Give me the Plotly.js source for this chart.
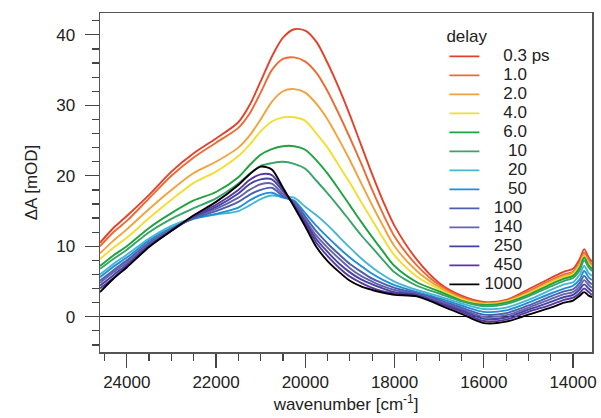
<!DOCTYPE html>
<html>
<head>
<meta charset="utf-8">
<script src="https://cdn.plot.ly/plotly-3.0.1.min.js"></script>
<style>html,body{margin:0;padding:0;background:#fff;}#chart{width:601px;height:418px;}</style>
</head>
<body>
<div id="chart"></div>
<script>
// wavenumber grid (cm^-1)
const wavenumber = [24600, 24300, 24000, 23500, 23000, 22500, 22000, 21500, 21250, 21000, 20750, 20500, 20250, 20000, 19750, 19500, 19250, 19000, 18750, 18500, 18250, 18000, 17500, 17000, 16500, 16000, 15500, 15000, 14500, 14200, 14000, 13850, 13750, 13650, 13575];

// delay labels
const delays = ["0.3 ps", "1.0", "2.0", "4.0", "6.0", "10", "20", "50", "100", "140", "250", "450", "1000"];

// ΔA [mOD] per delay
const d0p3 = [10.5, 12.6, 14.3, 17.3, 20.6, 23.2, 25.3, 27.6, 30.0, 33.4, 36.9, 39.6, 40.8, 40.6, 39.0, 36.0, 32.5, 28.6, 24.4, 20.2, 16.3, 12.9, 8.1, 4.8, 3.0, 2.1, 2.4, 3.9, 5.5, 6.4, 6.8, 8.2, 9.6, 8.4, 7.8];
const d1p0 = [10.0, 12.0, 13.6, 16.8, 20.0, 22.6, 24.7, 26.8, 28.8, 31.8, 35.0, 36.6, 36.8, 36.2, 34.6, 32.0, 28.8, 25.4, 21.8, 18.0, 14.5, 11.4, 7.3, 4.5, 2.8, 2.0, 2.3, 3.6, 5.2, 6.0, 6.4, 7.7, 9.1, 8.0, 7.4];
const d2p0 = [9.0, 10.8, 12.4, 15.3, 18.0, 20.4, 22.0, 24.0, 25.7, 28.0, 30.5, 32.0, 32.3, 31.8, 30.2, 28.0, 25.2, 22.2, 19.0, 15.8, 12.8, 10.0, 6.5, 4.2, 2.6, 1.9, 2.2, 3.4, 5.0, 5.8, 6.2, 7.5, 8.8, 7.7, 7.2];
const d4p0 = [8.2, 9.8, 11.2, 14.0, 16.6, 19.0, 20.6, 22.8, 24.4, 26.3, 27.7, 28.3, 28.3, 27.8, 26.0, 24.0, 21.5, 19.0, 16.3, 13.7, 11.1, 8.7, 5.7, 3.9, 2.5, 1.8, 2.1, 3.3, 4.8, 5.6, 6.0, 7.2, 8.6, 7.5, 7.0];
const d6p0 = [7.2, 8.7, 10.0, 12.6, 14.7, 16.5, 17.7, 19.8, 21.5, 23.0, 23.8, 24.2, 24.2, 23.7, 22.2, 20.3, 18.1, 15.8, 13.5, 11.3, 9.2, 7.2, 4.9, 3.6, 2.3, 1.7, 2.0, 3.1, 4.6, 5.4, 5.8, 7.0, 8.4, 7.3, 6.8];
const d10 = [6.8, 8.2, 9.5, 12.0, 13.9, 15.4, 16.8, 18.9, 20.3, 21.4, 21.8, 22.0, 21.7, 21.0, 19.3, 17.5, 15.6, 13.6, 11.6, 9.8, 8.0, 6.3, 4.4, 3.3, 2.2, 1.5, 1.8, 2.9, 4.3, 5.1, 5.5, 6.6, 8.0, 7.0, 6.5];
const d20 = [6.0, 7.5, 8.8, 11.1, 12.9, 14.0, 14.5, 15.0, 15.8, 16.7, 17.2, 17.0, 16.9, 15.6, 14.4, 13.0, 11.4, 9.8, 8.3, 7.0, 5.9, 5.0, 3.8, 2.9, 1.9, 1.1, 1.3, 2.4, 3.8, 4.6, 4.9, 6.0, 7.2, 6.2, 5.8];
const d50 = [5.6, 7.1, 8.4, 10.8, 12.6, 13.9, 14.6, 15.5, 16.5, 17.3, 17.6, 16.9, 16.5, 14.7, 12.9, 11.3, 9.8, 8.4, 7.2, 6.1, 5.2, 4.5, 3.5, 2.6, 1.6, 0.7, 0.9, 2.0, 3.3, 4.0, 4.4, 5.3, 6.5, 5.6, 5.2];
const d100 = [5.1, 6.6, 8.0, 10.5, 12.4, 14.0, 15.0, 16.3, 17.3, 18.0, 18.3, 17.1, 16.3, 14.2, 12.1, 10.4, 8.9, 7.5, 6.4, 5.4, 4.7, 4.1, 3.3, 2.4, 1.3, 0.3, 0.5, 1.6, 2.9, 3.6, 3.9, 4.8, 5.8, 5.0, 4.6];
const d140 = [4.8, 6.3, 7.7, 10.3, 12.3, 14.1, 15.3, 16.9, 18.0, 18.8, 18.9, 17.4, 16.1, 13.8, 11.5, 9.8, 8.3, 6.9, 5.8, 5.0, 4.3, 3.8, 3.2, 2.2, 1.1, 0.0, 0.2, 1.3, 2.5, 3.2, 3.5, 4.3, 5.2, 4.5, 4.1];
const d250 = [4.4, 5.9, 7.4, 10.1, 12.2, 14.2, 15.6, 17.5, 18.8, 19.5, 19.5, 17.8, 15.9, 13.5, 11.0, 9.2, 7.6, 6.3, 5.3, 4.6, 4.0, 3.5, 3.1, 2.0, 0.9, -0.3, -0.1, 1.0, 2.1, 2.8, 3.1, 3.9, 4.6, 4.0, 3.6];
const d450 = [4.0, 5.5, 7.2, 10.0, 12.2, 14.3, 15.9, 18.0, 19.4, 20.2, 20.1, 18.1, 15.8, 13.2, 10.5, 8.6, 7.0, 5.7, 4.8, 4.1, 3.6, 3.3, 3.0, 1.9, 0.7, -0.6, -0.4, 0.7, 1.7, 2.4, 2.7, 3.4, 4.0, 3.5, 3.1];
const d1000 = [3.5, 5.4, 7.0, 9.9, 12.2, 14.4, 16.3, 18.7, 20.2, 21.3, 20.9, 18.3, 15.6, 12.8, 9.9, 7.9, 6.4, 5.1, 4.3, 3.8, 3.4, 3.1, 2.9, 1.7, 0.4, -0.9, -0.7, 0.3, 1.3, 2.0, 2.3, 3.0, 3.5, 3.0, 2.8];

const series = [d0p3, d1p0, d2p0, d4p0, d6p0, d10, d20, d50, d100, d140, d250, d450, d1000];
const colors = ["#e4412b", "#ec6b35", "#f0a23c", "#f2de30", "#1fa23f", "#37a468", "#46b6d2", "#1f8fd6", "#4a5fae", "#6a62a8", "#3f45a4", "#5c36a0", "#000000"];

const NB = "\u00A0";
function padLabel(s) {
  let n = 0;
  if (s.indexOf(".") >= 0) n = 4;
  else if (s.length === 2) n = 5;
  else if (s.length === 3) n = 2;
  return NB.repeat(n) + s;
}

const FONT = "Liberation Sans, Arial, Helvetica, sans-serif";

const traces = series.map((ys, i) => ({
  type: "scatter",
  mode: "lines",
  x: wavenumber,
  y: ys,
  name: '<span style="font-size:17px">' + padLabel(delays[i]) + '</span>',
  line: {color: colors[i], width: 1.9, shape: "spline", smoothing: 0.8},
  hoverinfo: "skip"
}));

const layout = {
  width: 601,
  height: 418,
  margin: {l: 100, r: 9, t: 13, b: 66},
  paper_bgcolor: "#ffffff",
  plot_bgcolor: "#ffffff",
  font: {family: FONT, size: 17, color: "#222"},
  showlegend: true,
  legend: {
    x: 0.70, y: 0.98, xanchor: "left", yanchor: "top",
    bgcolor: "rgba(0,0,0,0)",
    font: {family: FONT, size: 12, color: "#222"},
    title: {text: "delay", font: {family: FONT, size: 17, color: "#222"}},
    itemwidth: 30,
    traceorder: "normal"
  },
  xaxis: {
    range: [24600, 13575],
    dtick: 2000, tick0: 0,
    tickformat: "d",
    ticks: "outside", ticklen: 14, tickwidth: 1.2, tickcolor: "#444",
    minor: {dtick: 500, ticks: "outside", ticklen: 7, tickwidth: 1.2, tickcolor: "#444", showgrid: false},
    showline: true, linecolor: "#555", linewidth: 1.5, mirror: true,
    showgrid: false, zeroline: false,
    tickfont: {family: FONT, size: 17, color: "#222"},
    title: {text: "wavenumber [cm<sup>-1</sup>]", font: {family: FONT, size: 17, color: "#222"}, standoff: 4}
  },
  yaxis: {
    range: [-5, 43.1],
    dtick: 10, tick0: 0,
    ticks: "outside", ticklen: 14, tickwidth: 1.2, tickcolor: "#444",
    minor: {dtick: 2, ticks: "outside", ticklen: 7, tickwidth: 1.2, tickcolor: "#444", showgrid: false},
    showline: true, linecolor: "#555", linewidth: 1.5, mirror: true,
    showgrid: false,
    zeroline: true, zerolinecolor: "#000", zerolinewidth: 1.2,
    tickfont: {family: FONT, size: 17, color: "#222"},
    ticklabelstandoff: 6,
    title: {text: "ΔA [mOD]", font: {family: FONT, size: 17, color: "#222"}, standoff: 14}
  }
};

Plotly.newPlot("chart", traces, layout, {staticPlot: true, displayModeBar: false});
</script>
</body>
</html>
